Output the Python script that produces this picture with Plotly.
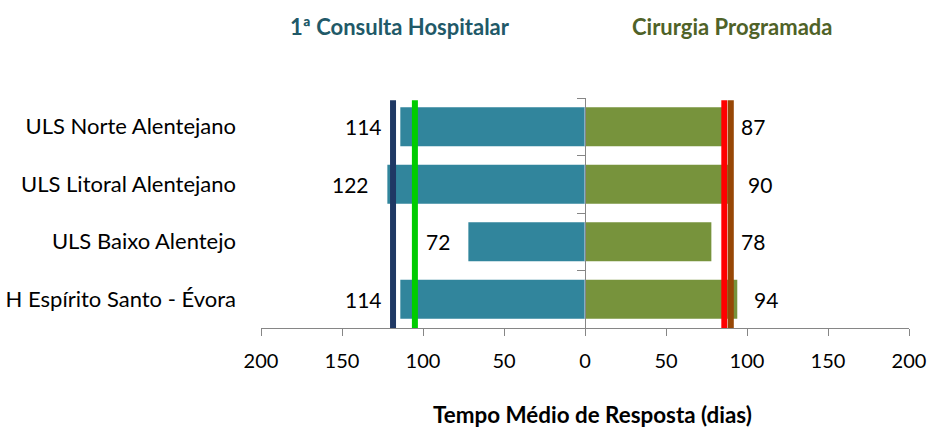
import plotly.graph_objects as go

categories = ["ULS Norte Alentejano", "ULS Litoral Alentejano", "ULS Baixo Alentejo", "H Espírito Santo - Évora"]
consulta = [114, 122, 72, 114]
cirurgia = [87, 90, 78, 94]
ref_consulta = [118.5, 105]
ref_cirurgia = [86, 90]
tick_vals = [-200, -150, -100, -50, 0, 50, 100, 150, 200]
tick_text = ["200", "150", "100", "50", "0", "50", "100", "150", "200"]
series_titles = ["1ª Consulta Hospitalar", "Cirurgia Programada"]
axis_title = "Tempo Médio de Resposta (dias)"

FONT = "Lato"
TEAL = "#31859C"
OLIVE = "#77933C"
GRAY = "#868686"
ref_consulta_colors = ["#1F3864", "#00CC00"]
ref_cirurgia_colors = ["#FF0000", "#974706"]

fig = go.Figure()
fig.add_trace(go.Bar(x=[-v for v in consulta], y=categories, orientation="h",
                     marker=dict(color=TEAL, line=dict(width=0)), hoverinfo="skip", showlegend=False))
fig.add_trace(go.Bar(x=cirurgia, y=categories, orientation="h",
                     marker=dict(color=OLIVE, line=dict(width=0)), hoverinfo="skip", showlegend=False))
# invisible trace to populate the centre axis
fig.add_trace(go.Bar(x=[0] * len(categories), y=categories, orientation="h", yaxis="y2",
                     marker=dict(color="rgba(0,0,0,0)"), hoverinfo="skip", showlegend=False))

for v, c in zip(ref_consulta, ref_consulta_colors):
    fig.add_shape(type="line", xref="x", yref="y domain", x0=-v, x1=-v, y0=0, y1=0.99,
                  line=dict(color=c, width=6), layer="above")
for v, c in zip(ref_cirurgia, ref_cirurgia_colors):
    fig.add_shape(type="line", xref="x", yref="y domain", x0=v, x1=v, y0=0, y1=0.99,
                  line=dict(color=c, width=6), layer="above")

for cat, v in zip(categories, consulta):
    fig.add_annotation(x=-v, y=cat, xref="x", yref="y", text=str(v), showarrow=False,
                       xanchor="right", xshift=-16, font=dict(family=FONT, size=21, color="black"))
ref_r_max = max(ref_cirurgia)
for cat, v in zip(categories, cirurgia):
    if v >= ref_r_max:
        ax, sh = v, 15
    else:
        ax, sh = ref_r_max, 8
    fig.add_annotation(x=ax, y=cat, xref="x", yref="y", text=str(v), showarrow=False,
                       xanchor="left", xshift=sh, font=dict(family=FONT, size=21, color="black"))

fig.add_annotation(x=0.2145, y=1.31, xref="paper", yref="paper", text="<b>%s</b>" % series_titles[0],
                   showarrow=False, xanchor="center", yanchor="middle",
                   font=dict(family=FONT, size=22, color="#215968"))
fig.add_annotation(x=0.728, y=1.31, xref="paper", yref="paper", text="<b>%s</b>" % series_titles[1],
                   showarrow=False, xanchor="center", yanchor="middle",
                   font=dict(family=FONT, size=22, color="#4F6228"))
fig.add_annotation(x=0.511, y=-0.375, xref="paper", yref="paper", text="<b>%s</b>" % axis_title,
                   showarrow=False, xanchor="center", yanchor="middle",
                   font=dict(family=FONT, size=22.4, color="black"))

fig.update_layout(
    width=927, height=432,
    margin=dict(l=261, r=18, t=98, b=104, autoexpand=False),
    paper_bgcolor="white", plot_bgcolor="white",
    barmode="relative", bargap=0.32,
    font=dict(family=FONT, size=20, color="black"),
    xaxis=dict(range=[-200, 200], tickvals=tick_vals, ticktext=tick_text, automargin=False,
               showline=True, linecolor=GRAY, linewidth=1, ticks="outside", ticklen=7,
               tickcolor=GRAY, tickwidth=1, showgrid=False, zeroline=False,
               ticklabelstandoff=8,
               tickfont=dict(family=FONT, size=20, color="black")),
    yaxis=dict(type="category", categoryorder="array", categoryarray=categories, automargin=False,
               range=[3.5, -0.5], showline=False, ticks="", showgrid=False, zeroline=False,
               ticklabelstandoff=24, tickfont=dict(family=FONT, size=22, color="black")),
    yaxis2=dict(type="category", categoryorder="array", categoryarray=categories, automargin=False,
                range=[3.5, -0.5], overlaying="y", anchor="free", position=0.5, side="left",
                showline=True, linecolor=GRAY, linewidth=1, ticks="outside", ticklen=8,
                tickcolor=GRAY, tickson="boundaries", showticklabels=False,
                showgrid=False, zeroline=False),
)

fig.write_html("out.html", config={"displayModeBar": False},
               post_script="document.body.style.margin='0';document.body.style.overflow='hidden';")
